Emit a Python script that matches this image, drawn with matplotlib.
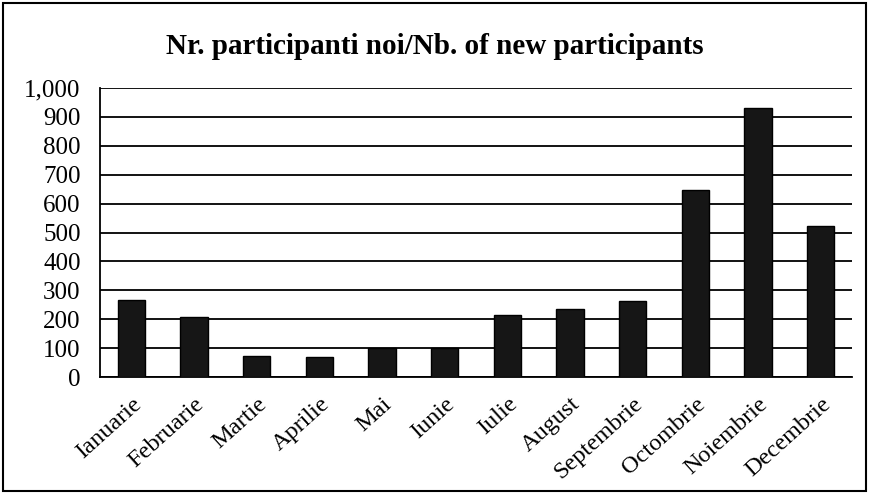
import matplotlib.pyplot as plt
from matplotlib.patches import Rectangle

# date
luni = ['Ianuarie', 'Februarie', 'Martie', 'Aprilie', 'Mai', 'Iunie',
        'Iulie', 'August', 'Septembrie', 'Octombrie', 'Noiembrie', 'Decembrie']
participanti = [266, 209, 73, 69, 102, 102, 213, 234, 262, 648, 930, 522]
y_ticks = list(range(0, 1001, 100))
y_labels = ['0', '100', '200', '300', '400', '500', '600', '700', '800', '900', '1,000']

plt.rcParams['font.family'] = ['Liberation Serif', 'DejaVu Serif']

fig = plt.figure(figsize=(8.69, 4.93), dpi=100)
ax = fig.add_axes([100 / 869, 116 / 493, 752 / 869, 289 / 493])

ax.bar(range(len(luni)), participanti, width=0.44, color='#161616',
       edgecolor='black', linewidth=1, zorder=3)

ax.set_ylim(0, 1000)
ax.set_xlim(-0.5, len(luni) - 0.5)
ax.set_yticks(y_ticks)
ax.set_yticklabels(y_labels, fontsize=18)
ax.set_xticks(range(len(luni)))
ax.set_xticklabels(luni, rotation=42, ha='right', rotation_mode='anchor', fontsize=17.5)
ax.tick_params(axis='x', length=0, pad=12)
ax.tick_params(axis='y', length=0, pad=14)
ax.grid(axis='y', color='black', linewidth=1.3, zorder=0)

for s in ['top', 'right']:
    ax.spines[s].set_visible(False)
ax.spines['left'].set_linewidth(1.3)
ax.spines['bottom'].set_linewidth(1.3)

fig.text(0.5, 1 - 46 / 493, 'Nr. participanti noi/Nb. of new participants',
         ha='center', va='center', fontsize=21, fontweight='bold')

# chenar in jurul figurii
fig.patches.append(Rectangle((0.004, 0.004), 0.992, 0.99, transform=fig.transFigure,
                             fill=False, edgecolor='black', linewidth=1.5))

fig.savefig('out.png', dpi=100)
